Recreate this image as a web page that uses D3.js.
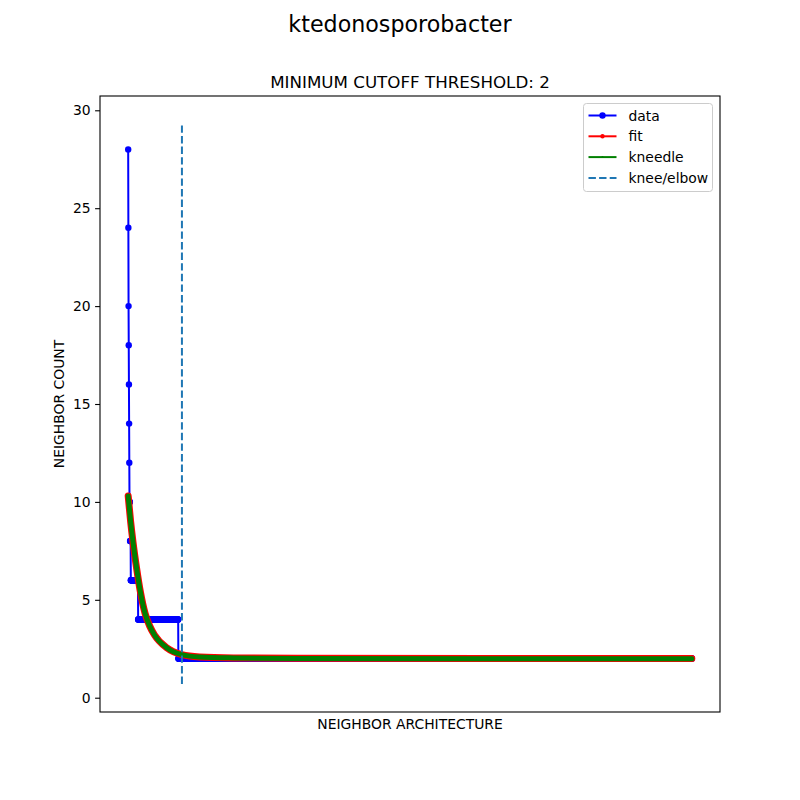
<!DOCTYPE html>
<html>
<head>
    <script src="https://cdnjs.cloudflare.com/ajax/libs/d3/7.8.5/d3.min.js"></script>
    <style>
        body { margin: 0; padding: 0; background: white; }
        svg text { font-family: "DejaVu Sans", sans-serif; fill: #000; }
    </style>
</head>
<body>
    <svg id="chart" width="800" height="800"></svg>
    <script>
        // Sorted neighbor counts, stored as runs (value, how many points)
        const runValues = [28, 24, 20, 18, 16, 14, 12, 10, 8, 6, 4, 2];
        const runCounts = [1, 1, 1, 1, 1, 1, 1, 3, 4, 39, 214, 2733];

        // Fitted curve at a few indices
        const fitIndex = [0, 13, 25, 45, 65, 90, 115, 140, 205, 285, 380, 560, 900, 2999];
        const fitValues = [10.3, 9.0, 8.0, 6.6, 5.4, 4.3, 3.65, 3.2, 2.55, 2.2, 2.08, 2.03, 2.01, 2.0];
        // Kneedle curve overlaps the fit
        const kneedleIndex = [0, 13, 25, 45, 65, 90, 115, 140, 205, 285, 380, 560, 900, 2999];
        const kneedleValues = [10.3, 9.0, 8.0, 6.6, 5.4, 4.3, 3.65, 3.2, 2.55, 2.2, 2.08, 2.03, 2.0, 1.99];

        const kneeIndex = 286;
        const kneeRange = [0.7, 29.3];
        const yTicks = [0, 5, 10, 15, 20, 25, 30];

        const title = 'ktedonosporobacter';
        const subtitle = 'MINIMUM CUTOFF THRESHOLD: 2';

        // expand the runs into points
        const data = [];
        runValues.forEach((v, i) => {
            for (let k = 0; k < runCounts[i]; k++) data.push({ x: data.length, y: v });
        });
        const fit = fitIndex.map((x, i) => ({ x, y: fitValues[i] }));
        const kneedle = kneedleIndex.map((x, i) => ({ x, y: kneedleValues[i] }));

        const m = { left: 100, right: 720, top: 96, bottom: 712 };
        const svg = d3.select('#chart');

        const xMax = data.length - 1;
        const x = d3.scaleLinear()
            .domain([-0.05 * xMax, xMax * 1.05])
            .range([m.left, m.right]);
        const yLo = kneeRange[0], yHi = kneeRange[1];
        const yPad = (yHi - yLo) * 0.05;
        const y = d3.scaleLinear()
            .domain([yLo - yPad, yHi + yPad])
            .range([m.bottom, m.top]);

        const plot = svg.append('g');

        const line = d3.line().x(d => x(d.x)).y(d => y(d.y));
        const smooth = d3.line().x(d => x(d.x)).y(d => y(d.y)).curve(d3.curveMonotoneX);

        // data
        plot.append('path')
            .datum(data)
            .attr('d', line)
            .attr('fill', 'none')
            .attr('stroke', '#0000ff')
            .attr('stroke-width', 2);
        plot.append('g')
            .selectAll('circle')
            .data(data)
            .join('circle')
            .attr('cx', d => x(d.x))
            .attr('cy', d => y(d.y))
            .attr('r', 3.2)
            .attr('fill', '#0000ff');

        // fit
        plot.append('path')
            .datum(fit)
            .attr('d', smooth)
            .attr('fill', 'none')
            .attr('stroke', '#ff0000')
            .attr('stroke-width', 7)
            .attr('stroke-linecap', 'round')
            .attr('stroke-linejoin', 'round');

        // kneedle
        plot.append('path')
            .datum(kneedle)
            .attr('d', smooth)
            .attr('fill', 'none')
            .attr('stroke', '#008000')
            .attr('stroke-width', 5)
            .attr('stroke-linecap', 'round')
            .attr('stroke-linejoin', 'round');

        // knee / elbow
        plot.append('line')
            .attr('x1', x(kneeIndex)).attr('x2', x(kneeIndex))
            .attr('y1', y(kneeRange[0])).attr('y2', y(kneeRange[1]))
            .attr('stroke', '#1f77b4')
            .attr('stroke-width', 2)
            .attr('stroke-dasharray', '7.4,3.2');

        // frame
        svg.append('rect')
            .attr('x', m.left).attr('y', m.top)
            .attr('width', m.right - m.left).attr('height', m.bottom - m.top)
            .attr('fill', 'none')
            .attr('stroke', '#000')
            .attr('stroke-width', 1.1);

        // y axis
        const yAxis = svg.append('g')
            .attr('transform', `translate(${m.left},0)`)
            .call(d3.axisLeft(y).tickValues(yTicks).tickSize(4.9).tickPadding(4.5));
        yAxis.select('.domain').remove();
        yAxis.selectAll('line').attr('stroke', '#000').attr('stroke-width', 1.1);
        yAxis.selectAll('text')
            .attr('font-size', '13.9px')
            .attr('font-family', '"DejaVu Sans", sans-serif')
            .attr('fill', '#000');

        // labels
        svg.append('text')
            .attr('x', 400).attr('y', 32)
            .attr('text-anchor', 'middle')
            .attr('font-size', '22.2px')
            .text(title);
        svg.append('text')
            .attr('x', (m.left + m.right) / 2).attr('y', 88)
            .attr('text-anchor', 'middle')
            .attr('font-size', '16.7px')
            .text(subtitle);
        svg.append('text')
            .attr('x', (m.left + m.right) / 2).attr('y', 729)
            .attr('text-anchor', 'middle')
            .attr('font-size', '13.9px')
            .text('NEIGHBOR ARCHITECTURE');
        svg.append('text')
            .attr('transform', `translate(64,${(m.top + m.bottom) / 2}) rotate(-90)`)
            .attr('text-anchor', 'middle')
            .attr('font-size', '13.9px')
            .text('NEIGHBOR COUNT');

        // legend
        const legend = svg.append('g').attr('transform', 'translate(583.5,103.5)');
        legend.append('rect')
            .attr('width', 129).attr('height', 88)
            .attr('rx', 3)
            .attr('fill', 'white')
            .attr('fill-opacity', 0.8)
            .attr('stroke', '#cccccc');
        const items = [
            { label: 'data', color: '#0000ff', marker: 3.2, dash: null },
            { label: 'fit', color: '#ff0000', marker: 2.2, dash: null },
            { label: 'kneedle', color: '#008000', marker: 1, dash: null },
            { label: 'knee/elbow', color: '#1f77b4', marker: 0, dash: '7.4,3.2' }
        ];
        items.forEach((it, i) => {
            const g = legend.append('g').attr('transform', `translate(0,${12 + i * 20.8})`);
            g.append('line')
                .attr('x1', 5).attr('x2', 33)
                .attr('stroke', it.color)
                .attr('stroke-width', 2)
                .attr('stroke-dasharray', it.dash);
            if (it.marker) {
                g.append('circle').attr('cx', 19).attr('r', it.marker).attr('fill', it.color);
            }
            g.append('text')
                .attr('x', 45).attr('y', 5)
                .attr('font-size', '13.9px')
                .text(it.label);
        });
    </script>
</body>
</html>
